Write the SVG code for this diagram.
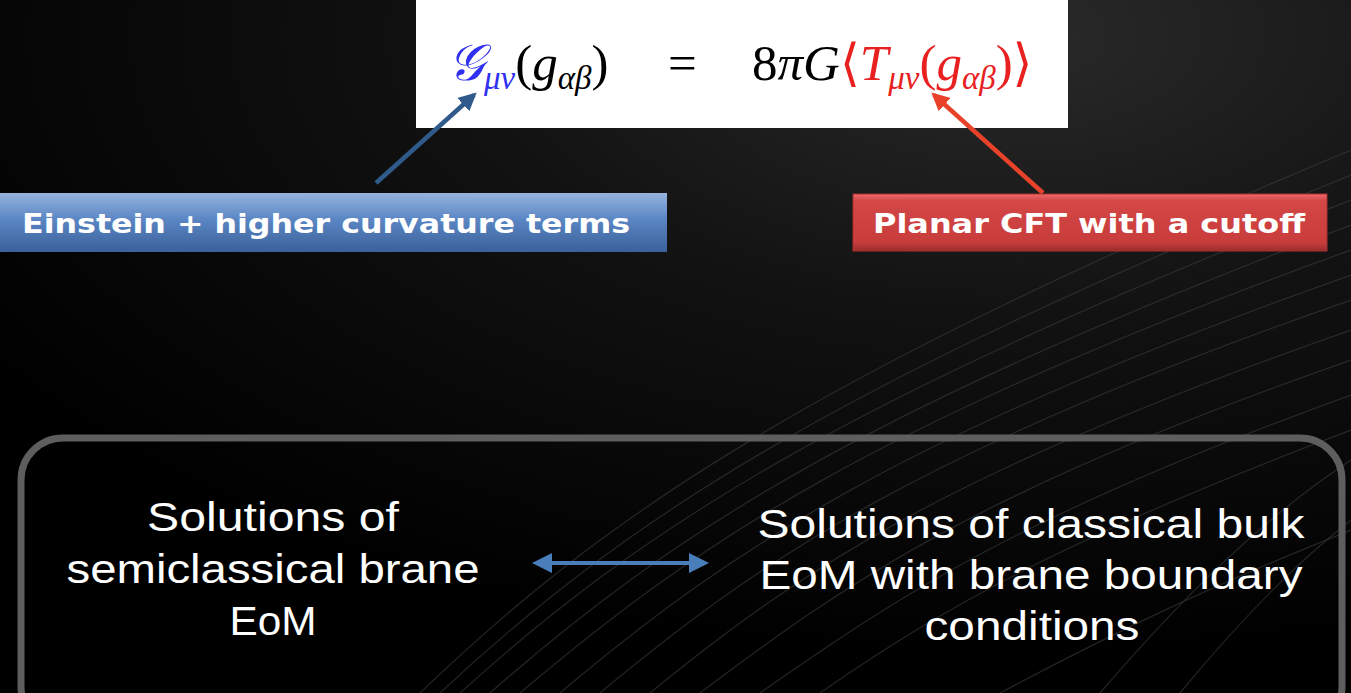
<svg xmlns="http://www.w3.org/2000/svg" width="1351" height="693" viewBox="0 0 1351 693">
<defs>
<radialGradient id="bg" cx="0.75" cy="0.05" r="0.9">
<stop offset="0" stop-color="#2a2a2a"/>
<stop offset="0.45" stop-color="#121212"/>
<stop offset="1" stop-color="#000"/>
</radialGradient>
<linearGradient id="blueG" x1="0" y1="0" x2="0" y2="1">
<stop offset="0" stop-color="#95b3dc"/>
<stop offset="0.45" stop-color="#5a86c4"/>
<stop offset="1" stop-color="#3b619a"/>
</linearGradient>
<linearGradient id="redG" x1="0" y1="0" x2="0" y2="1">
<stop offset="0" stop-color="#f06a6a"/>
<stop offset="0.12" stop-color="#d44747"/>
<stop offset="0.85" stop-color="#c83c3c"/>
<stop offset="1" stop-color="#9c2c2c"/>
</linearGradient>
<marker id="ahBlue" viewBox="0 0 10 10" refX="8" refY="5" markerWidth="4" markerHeight="4" orient="auto-start-reverse" markerUnits="strokeWidth">
<path d="M0,0 L10,5 L0,10 z" fill="#2f5a8a"/>
</marker>
<marker id="ahRed" viewBox="0 0 10 10" refX="8" refY="5" markerWidth="4" markerHeight="4" orient="auto-start-reverse" markerUnits="strokeWidth">
<path d="M0,0 L10,5 L0,10 z" fill="#e8432a"/>
</marker>
<marker id="ahDbl" viewBox="0 0 10 10" refX="8" refY="5" markerWidth="5" markerHeight="5" orient="auto-start-reverse" markerUnits="strokeWidth">
<path d="M0,0 L10,5 L0,10 z" fill="#4a7ebb"/>
</marker>
<style>
.eq{font-family:"Liberation Serif","DejaVu Serif",serif;font-style:italic;font-size:51px;}
.up{font-style:normal;}
.sub{font-size:33px;}
.lbl{font-family:"DejaVu Sans",Verdana,sans-serif;font-weight:bold;font-size:27px;fill:#fff;}
.sol{font-family:"Liberation Sans","DejaVu Sans",sans-serif;font-size:40px;fill:#fff;text-anchor:middle;}
.tex{fill:none;stroke:#3c3c3c;stroke-width:1.2;opacity:0.6;}
</style>
</defs>
<rect width="1351" height="693" fill="url(#bg)"/>
<g id="texture">
<path class="tex" d="M420 693 C600 520 800 380 1351 150"/>
<path class="tex" d="M440 693 C620 525 820 390 1351 175"/>
<path class="tex" d="M460 693 C640 530 840 400 1351 200"/>
<path class="tex" d="M490 693 C670 535 860 410 1351 225"/>
<path class="tex" d="M520 693 C700 540 880 420 1351 250"/>
<path class="tex" d="M560 693 C730 550 900 435 1351 275"/>
<path class="tex" d="M600 693 C760 560 920 450 1351 300"/>
<path class="tex" d="M650 693 C800 570 950 470 1351 330"/>
<path class="tex" d="M700 693 C850 580 980 490 1351 360"/>
<path class="tex" d="M760 693 C900 595 1020 515 1351 395"/>
<path class="tex" d="M820 693 C940 610 1060 540 1351 430"/>
<path class="tex" d="M1000 693 C1100 640 1200 590 1351 530"/>
<path class="tex" d="M1100 693 C1180 600 1260 520 1351 460"/>
<path class="tex" d="M1180 693 C1240 620 1300 560 1351 520"/>
</g>
<g id="equation">
<rect x="416" y="0" width="652" height="128" fill="#fff"/>
<text class="eq" x="448" y="80"><tspan fill="#3030f0">𝒢</tspan><tspan class="sub" fill="#3030f0" dy="9">μν</tspan><tspan class="up" fill="#000" dy="-9">(</tspan><tspan fill="#000">g</tspan><tspan class="sub" fill="#000" dy="9">αβ</tspan><tspan class="up" fill="#000" dy="-9">)</tspan></text>
<text class="eq" x="668" y="80" fill="#000" style="font-style:normal">=</text>
<text class="eq" x="752" y="80"><tspan class="up" fill="#000">8</tspan><tspan fill="#000">πG</tspan><tspan class="up" fill="#e82020">⟨</tspan><tspan fill="#e82020">T</tspan><tspan class="sub" fill="#e82020" dy="9">μν</tspan><tspan class="up" fill="#e82020" dy="-9">(</tspan><tspan fill="#e82020">g</tspan><tspan class="sub" fill="#e82020" dy="9">αβ</tspan><tspan class="up" fill="#e82020" dy="-9">)⟩</tspan></text>
</g>
<g id="connectors">
<line x1="376" y1="183" x2="474" y2="95" stroke="#2f5a8a" stroke-width="4.5" marker-end="url(#ahBlue)"/>
<line x1="1043" y1="193" x2="934" y2="95" stroke="#e8432a" stroke-width="4.5" marker-end="url(#ahRed)"/>
<line x1="536" y1="563" x2="705" y2="563" stroke="#4a7ebb" stroke-width="4" marker-start="url(#ahDbl)" marker-end="url(#ahDbl)"/>
</g>
<g id="einstein">
<rect x="0" y="193" width="667" height="59" fill="url(#blueG)"/>
<text class="lbl" x="22" y="233" textLength="608" lengthAdjust="spacingAndGlyphs">Einstein + higher curvature terms</text>
</g>
<g id="cft">
<rect x="853" y="194" width="474" height="57" fill="url(#redG)" stroke="#a83030" stroke-width="1"/>
<text class="lbl" x="873" y="233" textLength="432" lengthAdjust="spacingAndGlyphs">Planar CFT with a cutoff</text>
</g>
<g id="panel">
<rect x="21" y="438" width="1321" height="290" rx="42" ry="42" fill="none" stroke="#5e5e5e" stroke-width="7"/>
</g>
<g id="left-solutions">
<text class="sol" x="273" y="531" textLength="252" lengthAdjust="spacingAndGlyphs">Solutions of</text>
<text class="sol" x="273" y="583" textLength="413" lengthAdjust="spacingAndGlyphs">semiclassical brane</text>
<text class="sol" x="273" y="635" textLength="87" lengthAdjust="spacingAndGlyphs">EoM</text>
</g>
<g id="right-solutions">
<text class="sol" x="1031" y="538" textLength="547" lengthAdjust="spacingAndGlyphs">Solutions of classical bulk</text>
<text class="sol" x="1031" y="589" textLength="543" lengthAdjust="spacingAndGlyphs">EoM with brane boundary</text>
<text class="sol" x="1032" y="640" textLength="215" lengthAdjust="spacingAndGlyphs">conditions</text>
</g>
</svg>
